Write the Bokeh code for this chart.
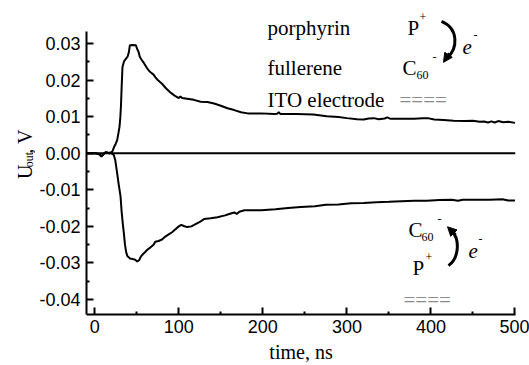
from bokeh.plotting import figure
from bokeh.layouts import row
from bokeh.models import Range1d, Span, Label, FixedTicker, PrintfTickFormatter, Arrow, NormalHead
from bokeh.embed import file_html
from bokeh.resources import INLINE

# Photovoltage transients: time (ns) and output voltage (V)
t_pos = [-9.8, 0, 5, 8, 10, 13, 15, 18, 21, 23, 25, 26.7, 28.2, 29.5, 30.5, 31.2, 32, 33,
         35, 37, 39, 40.5, 41.8, 45, 49, 50.5, 52, 53.7, 56, 59, 61, 63, 66, 70, 72, 75,
         80, 85, 90.7, 96, 100, 102, 104, 110, 118, 126, 134, 142, 150, 158, 166, 174,
         182, 198, 213, 217, 219, 221, 240, 260, 276, 290, 300, 312, 320, 326, 332, 338,
         345, 348, 352, 364, 380, 390, 396, 404, 415, 427, 440, 450, 458, 463, 468, 472,
         476, 480, 486, 492, 500]
u_pos = [0.0, 0.0, -0.0002, -0.0008, -0.0003, 0.0003, 0.0002, -0.0001, 0.0005, 0.0017,
         0.0026, 0.0036, 0.0055, 0.0073, 0.0100, 0.0130, 0.0180, 0.0236, 0.0252, 0.0258,
         0.0264, 0.0275, 0.0295, 0.0296, 0.0295, 0.0285, 0.0278, 0.0263, 0.0255, 0.0245,
         0.0237, 0.0230, 0.0222, 0.0215, 0.0208, 0.0200, 0.0190, 0.0177, 0.0165, 0.0156,
         0.0151, 0.0155, 0.0151, 0.0149, 0.0146, 0.0141, 0.0140, 0.0136, 0.0130, 0.0123,
         0.0118, 0.0112, 0.0109, 0.0109, 0.0107, 0.0108, 0.0112, 0.0107, 0.0107, 0.0106,
         0.0101, 0.0099, 0.0096, 0.0093, 0.0092, 0.0095, 0.0096, 0.0093, 0.0095, 0.0098,
         0.0094, 0.0094, 0.0094, 0.0096, 0.0096, 0.0092, 0.0091, 0.0089, 0.0088, 0.0089,
         0.0086, 0.0087, 0.0084, 0.0087, 0.0084, 0.0088, 0.0085, 0.0086, 0.0083]

t_neg = [-9.8, 0, 5, 8, 10, 13, 16, 19, 21, 22.7, 24.5, 26.7, 28.5, 30.7, 32, 33.5, 34.6,
         36, 37.5, 39, 42, 45, 48, 50.6, 53, 55, 57, 60, 62.5, 66, 70, 72, 76, 80, 84, 88,
         92, 96, 100, 103, 106, 110, 115, 120, 125, 130, 138, 146, 155, 160, 166, 169, 172,
         178, 198, 215, 230, 245, 262, 275, 290, 305, 320, 335, 350, 365, 380, 395, 410,
         425, 432, 438, 450, 470, 485, 492, 500]
u_neg = [0.0, 0.0, -0.0002, -0.0009, -0.0004, 0.0003, 0.0001, 0.0002, -0.0002, -0.0005,
         -0.0020, -0.0055, -0.0085, -0.0118, -0.0160, -0.0195, -0.0218, -0.0250, -0.0272,
         -0.0282, -0.0288, -0.0289, -0.0291, -0.0296, -0.0292, -0.0282, -0.0277, -0.0270,
         -0.0264, -0.0258, -0.0250, -0.0242, -0.0240, -0.0236, -0.0228, -0.0222, -0.0216,
         -0.0208, -0.0200, -0.0196, -0.0199, -0.0202, -0.0200, -0.0194, -0.0188, -0.0180,
         -0.0178, -0.0175, -0.0170, -0.0166, -0.0162, -0.0166, -0.0160, -0.0156, -0.0156,
         -0.0153, -0.0150, -0.0147, -0.0145, -0.0141, -0.0140, -0.0137, -0.0136, -0.0134,
         -0.0133, -0.0131, -0.0130, -0.0130, -0.0128, -0.0127, -0.0130, -0.0127, -0.0127,
         -0.0127, -0.0126, -0.0129, -0.0129]

x_ticks = [0, 100, 200, 300, 400, 500]
x_minor = [50, 150, 250, 350, 450]
y_ticks = [-0.04, -0.03, -0.02, -0.01, 0.0, 0.01, 0.02, 0.03]
y_minor = [-0.035, -0.025, -0.015, -0.005, 0.005, 0.015, 0.025]

W, H = 529, 365
LAB_W = 35                      # strip holding the rotated y title
FL, FR, FT, FB = 86, 515, 5, 315  # plot frame in page pixels
X0, X1 = -9.8, 500.6
Y0, Y1 = -0.0441, 0.0404
Y_AXIS_TOP = 0.0333
SERIF = "Liberation Serif"

def sx(px):
    return X0 + (px - FL) / (FR - FL) * (X1 - X0)

def sy(py):
    return Y1 - (py - FT) / (FB - FT) * (Y1 - Y0)

# ---- narrow strip with the y-axis title "U_out, V" ----
lab = figure(width=LAB_W, height=H, x_range=Range1d(0, LAB_W), y_range=Range1d(0, H),
             x_axis_type=None, y_axis_type=None, output_backend="svg",
             toolbar_location=None, min_border=0)
lab.outline_line_color = None
lab.background_fill_color = "white"
lab.border_fill_color = "white"

def ytitle(s, px, py, size):
    lab.add_layout(Label(x=px, y=H - py, text=s, text_font=SERIF,
                         text_font_size=f"{size}px", text_color="black",
                         text_align="left", text_baseline="alphabetic",
                         angle=90, angle_units="deg"))

ytitle("U", 24, 205, 20)
ytitle("out", 28, 191, 12)
ytitle(", V", 24, 175, 20)

# ---- main plot ----
p = figure(width=W - LAB_W, height=H, x_range=Range1d(X0, X1), y_range=Range1d(Y0, Y1),
           output_backend="svg", toolbar_location=None,
           min_border_left=FL - LAB_W, min_border_right=W - FR,
           min_border_top=FT, min_border_bottom=H - FB)
p.outline_line_color = None
p.grid.visible = False
p.background_fill_color = "white"
p.border_fill_color = "white"

for ax in (p.xaxis[0], p.yaxis[0]):
    ax.axis_line_width = 2
    ax.axis_line_color = "black"
    ax.major_tick_in = 7
    ax.major_tick_out = 0
    ax.minor_tick_in = 3
    ax.minor_tick_out = 0
    ax.major_tick_line_width = 2
    ax.minor_tick_line_width = 2
    ax.major_tick_line_color = "black"
    ax.minor_tick_line_color = "black"
    ax.major_label_text_font = "Liberation Sans"
    ax.major_label_text_font_size = "18px"
    ax.major_label_text_color = "black"

p.xaxis.ticker = FixedTicker(ticks=x_ticks, minor_ticks=x_minor)
p.yaxis.ticker = FixedTicker(ticks=y_ticks, minor_ticks=y_minor)
p.xaxis.formatter = PrintfTickFormatter(format="%d")
p.yaxis.formatter = PrintfTickFormatter(format="%.2f")
p.yaxis.bounds = (Y0, Y_AXIS_TOP)
p.yaxis.major_label_standoff = 6
p.xaxis.major_label_standoff = 5

p.xaxis.axis_label = "time, ns"
p.xaxis.axis_label_text_font = SERIF
p.xaxis.axis_label_text_font_style = "normal"
p.xaxis.axis_label_text_font_size = "20px"
p.xaxis.axis_label_text_color = "black"
p.xaxis.axis_label_standoff = 5

# zero level
p.add_layout(Span(location=0, dimension="width", line_color="black", line_width=2))

p.line(t_pos, u_pos, line_color="black", line_width=2)
p.line(t_neg, u_neg, line_color="black", line_width=2)

def txt(s, px, py, size=21, style="normal", color="black"):
    p.add_layout(Label(x=sx(px), y=sy(py), text=s, text_font=SERIF,
                       text_font_size=f"{size}px", text_font_style=style,
                       text_color=color, text_align="left",
                       text_baseline="alphabetic"))

# scheme above the curves: charge transfer porphyrin -> fullerene
txt("porphyrin", 267, 28)
txt("P", 407, 28)
txt("+", 419, 17, size=12)
txt("fullerene", 267, 68)
txt("C", 402, 68)
txt("60", 416, 75, size=12)
txt("-", 432, 57, size=12)
txt("e", 462, 47, style="italic")
txt("-", 473, 35, size=12)
txt("ITO electrode", 267, 100)
txt("====", 399, 100, color="#8a8a8a")

p.bezier(x0=[sx(441)], y0=[sy(21)], x1=[sx(446)], y1=[sy(58)],
         cx0=[sx(458)], cy0=[sy(28)], cx1=[sx(458)], cy1=[sy(48)],
         line_color="black", line_width=3)
p.add_layout(Arrow(x_start=sx(449), y_start=sy(53), x_end=sx(443), y_end=sy(62),
                   line_width=3, line_color="black",
                   end=NormalHead(size=9, fill_color="black", line_color="black")))

# scheme below the curves: reversed layer order
txt("C", 408, 230)
txt("60", 421, 237, size=12)
txt("-", 437, 219, size=12)
txt("P", 412, 268)
txt("+", 425, 257, size=12)
txt("e", 468, 251, style="italic")
txt("-", 478, 239, size=12)
txt("====", 403, 300, color="#8a8a8a")

p.bezier(x0=[sx(448)], y0=[sy(266)], x1=[sx(452)], y1=[sy(232)],
         cx0=[sx(459)], cy0=[sy(258)], cx1=[sx(459)], cy1=[sy(240)],
         line_color="black", line_width=3)
p.add_layout(Arrow(x_start=sx(455), y_start=sy(235), x_end=sx(447), y_end=sy(227),
                   line_width=3, line_color="black",
                   end=NormalHead(size=9, fill_color="black", line_color="black")))

layout = row(lab, p)
open("out.html", "w").write(file_html(layout, INLINE))
